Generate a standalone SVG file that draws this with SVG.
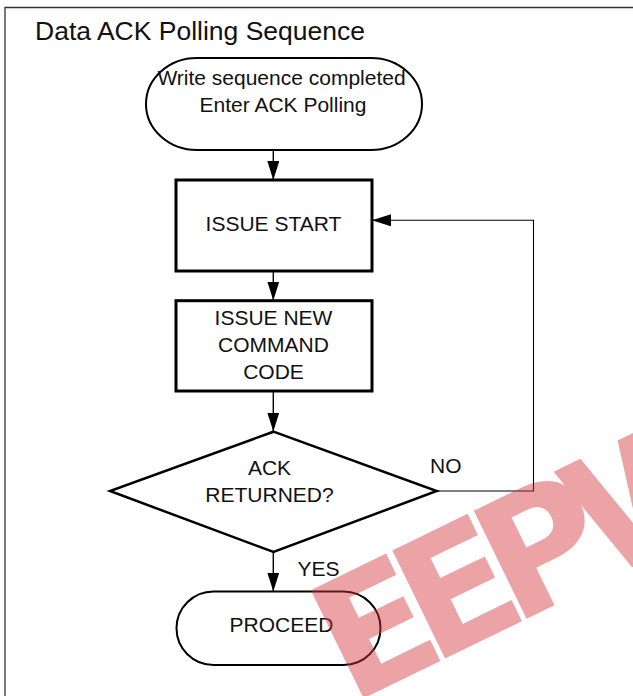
<svg xmlns="http://www.w3.org/2000/svg" width="633" height="696" viewBox="0 0 633 696">
  <defs>
    <marker id="arrow" markerUnits="userSpaceOnUse" markerWidth="19" markerHeight="12" refX="19" refY="6" orient="auto">
      <path d="M0,0 L19,6 L0,12 z" fill="#000"/>
    </marker>
    <style>
      .t { font-family: "Liberation Sans", Arial, sans-serif; font-size: 21px; fill: #111; }
      .title { font-family: "Liberation Sans", Arial, sans-serif; font-size: 26.5px; fill: #111; }
      .box { fill: #fff; stroke: #000; stroke-width: 3; }
      .term { fill: #fff; stroke: #000; stroke-width: 2; }
      .dec { fill: #fff; stroke: #000; stroke-width: 2.5; stroke-linejoin: miter; }
      .conn { fill: none; stroke: #000; stroke-width: 1.4; }
      .loop { fill: none; stroke: #000; stroke-width: 1.1; }
    </style>
  </defs>
  <rect width="633" height="696" fill="#fff"/>
  <!-- frame -->
  <path d="M5,696 L5,7.5 L633,7.5" fill="none" stroke="#333" stroke-width="1.3"/>
  <text class="title" x="35" y="40">Data ACK Polling Sequence</text>

  <g id="connectors">
    <line class="conn" x1="273.3" y1="150" x2="273.3" y2="180" marker-end="url(#arrow)"/>
    <line class="conn" x1="273.3" y1="271" x2="273.3" y2="300.5" marker-end="url(#arrow)"/>
    <line class="conn" x1="273.3" y1="391" x2="273.3" y2="431.5" marker-end="url(#arrow)"/>
    <line class="conn" x1="273.3" y1="552" x2="273.3" y2="591.5" marker-end="url(#arrow)"/>
    <polyline class="loop" points="436.7,491 533.5,491 533.5,220.3 372,220.3" marker-end="url(#arrow)"/>
    <text class="t" x="430" y="473">NO</text>
    <text class="t" x="297.5" y="576">YES</text>
  </g>

  <g id="start">
    <rect class="term" x="146" y="58" width="276" height="92" rx="51" ry="46"/>
    <text class="t" x="281.5" y="84.5" text-anchor="middle" font-size="21.3">Write sequence completed</text>
    <text class="t" x="283" y="111.5" text-anchor="middle">Enter ACK Polling</text>
  </g>

  <g id="issue-start">
    <rect class="box" x="176" y="180" width="196" height="91"/>
    <text class="t" x="273.5" y="231" text-anchor="middle">ISSUE START</text>
  </g>

  <g id="issue-new">
    <rect class="box" x="176" y="300.7" width="196" height="90.3"/>
    <text class="t" x="273.5" y="325" text-anchor="middle">ISSUE NEW</text>
    <text class="t" x="273.5" y="352.3" text-anchor="middle">COMMAND</text>
    <text class="t" x="273.5" y="379" text-anchor="middle">CODE</text>
  </g>

  <g id="ack-returned">
    <polygon class="dec" points="273.5,431.7 436.7,491 273.5,552 110,491"/>
    <text class="t" x="269.5" y="475" text-anchor="middle">ACK</text>
    <text class="t" x="269.5" y="502.3" text-anchor="middle">RETURNED?</text>
  </g>

  <g id="proceed">
    <rect class="term" x="176.5" y="591.5" width="204" height="73.5" rx="37" ry="36.75"/>
    <text class="t" x="281.5" y="631.7" text-anchor="middle">PROCEED</text>
  </g>

  <g id="watermark" opacity="0.45">
    <text x="350" y="705" transform="rotate(-26 350 705)" font-family="DejaVu Sans, sans-serif" font-weight="bold" font-size="165" letter-spacing="-22" fill="rgb(212,52,60)">EEPW</text>
  </g>
</svg>
